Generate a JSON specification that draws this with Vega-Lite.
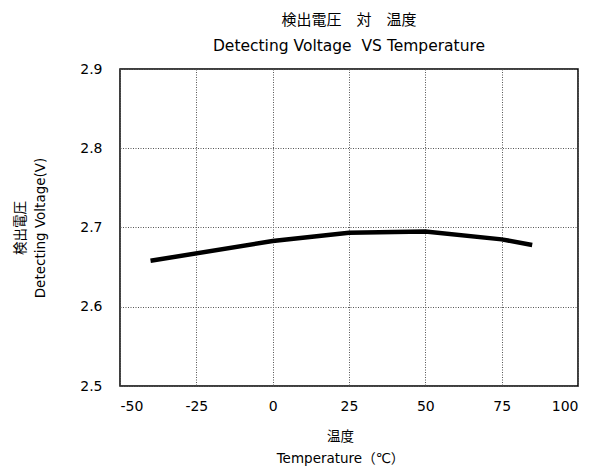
{
  "$schema": "https://vega.github.io/schema/vega-lite/v6.json",
  "autosize": "none",
  "width": 458,
  "height": 317,
  "padding": {"left": 120, "top": 69, "right": 15, "bottom": 80},
  "background": "white",
  "config": {
    "font": "DejaVu Sans, Noto Sans CJK JP",
    "view": {"stroke": "black", "strokeWidth": 1.5},
    "axis": {
      "domain": false,
      "ticks": false,
      "grid": true,
      "gridColor": "#555555",
      "gridDash": [1, 1.5],
      "gridWidth": 1,
      "labelFont": "DejaVu Sans, Noto Sans CJK JP",
      "labelFontSize": 14,
      "labelColor": "black",
      "titleFont": "DejaVu Sans, Noto Sans CJK JP",
      "titleFontSize": 13.5,
      "titleFontWeight": "normal",
      "titleColor": "black"
    }
  },
  "title": {
    "text": "検出電圧\u3000対\u3000温度",
    "subtitle": "Detecting Voltage\u00a0\u00a0VS Temperature",
    "fontSize": 15,
    "subtitleFontSize": 15.5,
    "fontWeight": "normal",
    "font": "DejaVu Sans, Noto Sans CJK JP",
    "subtitleFont": "DejaVu Sans, Noto Sans CJK JP",
    "color": "black",
    "subtitleColor": "black",
    "subtitlePadding": 11,
    "offset": 8,
    "anchor": "middle"
  },
  "data": {
    "values": [
      {"temp": -40, "v": 2.658},
      {"temp": 0, "v": 2.683},
      {"temp": 25, "v": 2.6935},
      {"temp": 50, "v": 2.695},
      {"temp": 75, "v": 2.685},
      {"temp": 85, "v": 2.678}
    ]
  },
  "mark": {"type": "line", "color": "black", "strokeWidth": 4.5, "strokeCap": "butt"},
  "encoding": {
    "x": {
      "field": "temp",
      "type": "quantitative",
      "scale": {"domain": [-50, 100], "nice": false},
      "axis": {
        "values": [-50, -25, 0, 25, 50, 75, 100],
        "labelExpr": "replace(datum.label, '\u2212', '-')",
        "labelPadding": 13,
        "title": ["温度", "Temperature（℃）"],
        "titlePadding": 16,
        "titleLineHeight": 22,
        "titleX": 220
      }
    },
    "y": {
      "field": "v",
      "type": "quantitative",
      "scale": {"domain": [2.5, 2.9], "nice": false, "zero": false},
      "axis": {
        "values": [2.5, 2.6, 2.7, 2.8, 2.9],
        "format": ".1f",
        "labelPadding": 18,
        "title": ["検出電圧", "Detecting Voltage(V)"],
        "titlePadding": 32,
        "titleLineHeight": 20
      }
    }
  }
}
